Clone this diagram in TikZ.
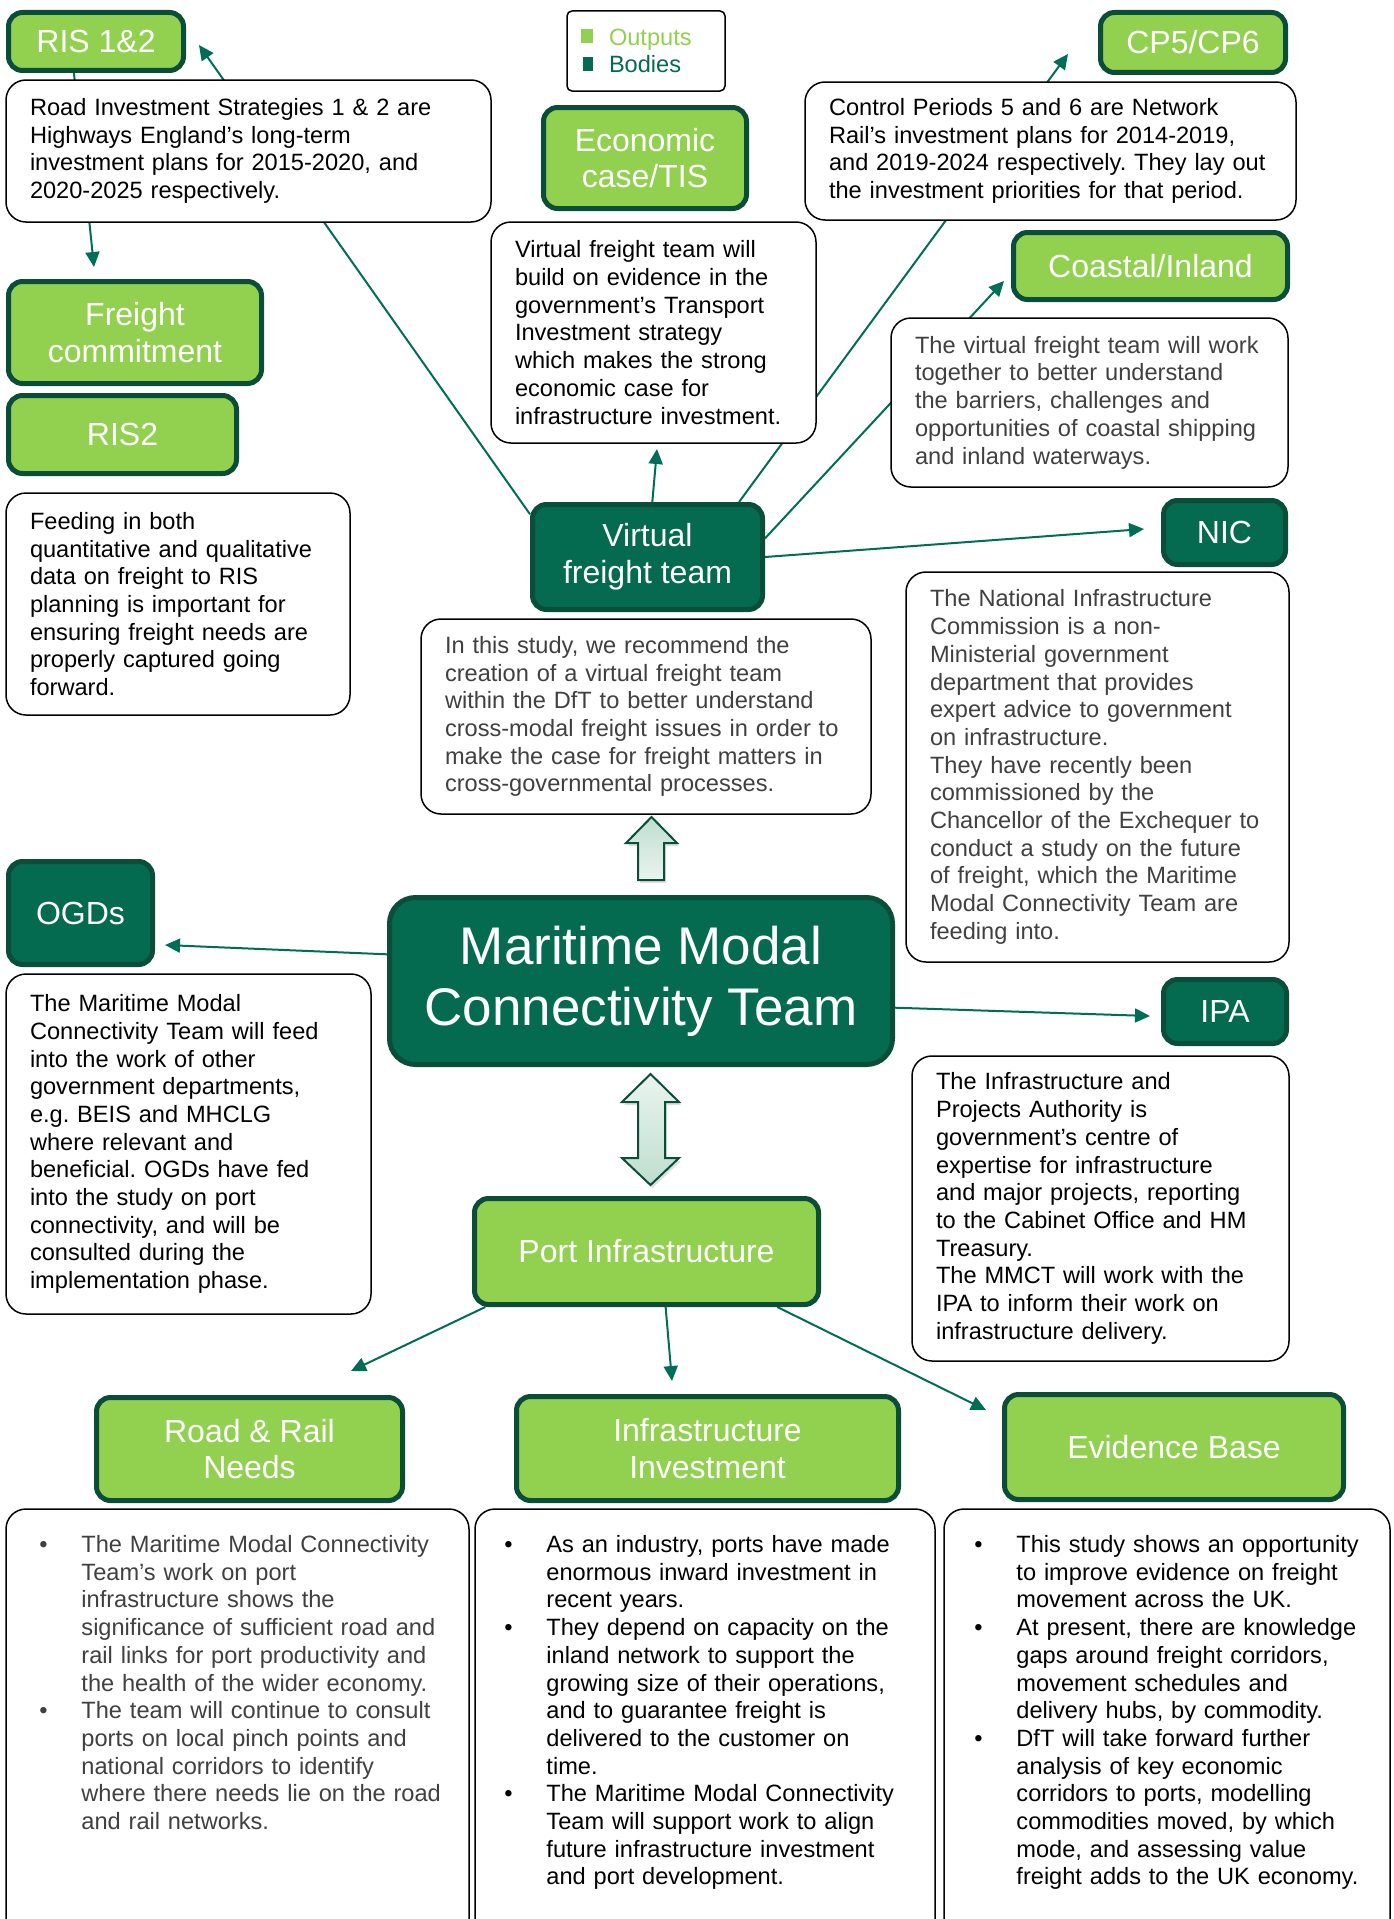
\documentclass[tikz,border=0pt]{standalone}
\usepackage{fontspec}
\setmainfont{Liberation Sans}
\usetikzlibrary{arrows.meta, calc, backgrounds, shadows}

\newcommand{\bodysize}{\fontsize{23.6}{27.7}\selectfont}
\newcommand{\labelsize}{\fontsize{32}{36.7}\selectfont}
\newcommand{\bul}{\makebox[42pt][l]{\textbullet}}
\newcommand{\bulskip}{\hspace*{42pt}}

\begin{document}
\frenchspacing
\begin{tikzpicture}[x=1pt, y=-1pt,
	output/.style={draw=edgegreen, fill=outgreen, line width=5pt, rounded corners=14pt, text=white, font=\labelsize, align=center},
	body/.style={draw=edgegreen, fill=bodygreen, line width=5pt, rounded corners=14pt, text=white, font=\labelsize, align=center},
	note/.style={draw=black, fill=white, line width=1.5pt, rounded corners=20pt, inner xsep=24pt, font=\bodysize, align=left},
	bullets/.style={anchor=north west, inner sep=0pt, text width=430pt, font=\bodysize, align=left},
	link/.style={draw=linkgreen, line width=2pt, -{Triangle[length=15pt,width=14pt]}},
	blockarrow/.style={draw=edgegreen, line width=2pt, drop shadow={shadow xshift=2pt, shadow yshift=-3pt, opacity=0.25}}]
	\definecolor{outgreen}{RGB}{146,208,80}
	\definecolor{bodygreen}{RGB}{4,106,80}
	\definecolor{edgegreen}{RGB}{10,78,57}
	\definecolor{linkgreen}{RGB}{0,110,85}
	\definecolor{notegray}{RGB}{64,64,64}
	\definecolor{arrowdark}{RGB}{190,222,207}
	\definecolor{arrowlight}{RGB}{234,244,239}

	\useasboundingbox (0,0) rectangle (1394,1919);
	\clip (0,0) rectangle (1394,1919);

	% legend
	\node (legend) at (646,51) [draw, fill=white, line width=1.5pt, rounded corners=5pt, minimum height=80pt, text width=130pt, inner xsep=14pt, align=left, font=\bodysize]
		{{\color{outgreen}\rule[2pt]{12pt}{14pt}\hspace{16pt}Outputs}\\{\color{bodygreen}\hspace{2pt}\rule[2pt]{10pt}{14pt}\hspace{16pt}Bodies}};

	% bodies
	\node (mmct) at (641,981) [body, minimum width=503pt, minimum height=167pt, rounded corners=26pt, font=\fontsize{53}{61}\selectfont] {Maritime Modal\\Connectivity Team};
	\node (vft) at (647.5,557) [body, minimum width=230pt, minimum height=105pt] {Virtual\\freight team};
	\node (nic) at (1224.5,532.5) [body, minimum width=122pt, minimum height=64pt] {NIC};
	\node (ogd) at (80.5,913) [body, minimum width=144pt, minimum height=103pt] {OGDs};
	\node (ipa) at (1225,1011.5) [body, minimum width=123pt, minimum height=64pt] {IPA};

	% outputs
	\node (ris12) at (96,41.5) [output, minimum width=175pt, minimum height=58pt] {RIS 1\&2};
	\node (fc) at (135,332.5) [output, minimum width=253pt, minimum height=102pt] {Freight\\commitment};
	\node (ris2) at (122.5,434.5) [output, minimum width=228pt, minimum height=78pt] {RIS2};
	\node (econ) at (645,158) [output, minimum width=203pt, minimum height=101pt] {Economic\\case/TIS};
	\node (cp56) at (1193,42.5) [output, minimum width=185pt, minimum height=60pt] {CP5/CP6};
	\node (coastal) at (1150.5,266) [output, minimum width=274pt, minimum height=67pt] {Coastal/Inland};
	\node (port) at (646.5,1251.5) [output, minimum width=344pt, minimum height=106pt] {Port Infrastructure};
	\node (roadrail) at (249.5,1449) [output, minimum width=306pt, minimum height=103pt] {Road \& Rail\\Needs};
	\node (infinv) at (707.5,1448.5) [output, minimum width=382pt, minimum height=104pt] {Infrastructure\\Investment};
	\node (evidence) at (1174,1447) [output, minimum width=339pt, minimum height=105pt] {Evidence Base};

	% notes
	\node (risnote) at (248.5,151) [note, text width=437pt, minimum height=142pt]
		{Road Investment Strategies 1 \& 2 are\\Highways England's long-term\\investment plans for 2015-2020, and\\2020-2025 respectively.};
	\node (vftnote) at (653.5,332.5) [note, text width=277pt, minimum height=221pt]
		{Virtual freight team will\\build on evidence in the\\government's Transport\\Investment strategy\\which makes the strong\\economic case for\\infrastructure investment.};
	\node (cpnote) at (1050.5,151) [note, text width=443pt, minimum height=138pt]
		{Control Periods 5 and 6 are Network\\Rail's investment plans for 2014-2019,\\and 2019-2024 respectively. They lay out\\the investment priorities for that period.};
	\node (coastnote) at (1089.5,402.5) [note, text width=349pt, minimum height=169pt, text=notegray]
		{The virtual freight team will work\\together to better understand\\the barriers, challenges and\\opportunities of coastal shipping\\and inland waterways.};
	\node (feednote) at (178,604) [note, text width=296pt, minimum height=222pt]
		{Feeding in both\\quantitative and qualitative\\data on freight to RIS\\planning is important for\\ensuring freight needs are\\properly captured going\\forward.};
	\node (studynote) at (646,716.5) [note, text width=402pt, minimum height=195pt, text=notegray]
		{In this study, we recommend the\\creation of a virtual freight team\\within the DfT to better understand\\cross-modal freight issues in order to\\make the case for freight matters in\\cross-governmental processes.};
	\node (nicnote) at (1097.5,767) [note, text width=335pt, minimum height=390pt, text=notegray]
		{The National Infrastructure\\Commission is a non-\\Ministerial government\\department that provides\\expert advice to government\\on infrastructure.\\They have recently been\\commissioned by the\\Chancellor of the Exchequer to\\conduct a study on the future\\of freight, which the Maritime\\Modal Connectivity Team are\\feeding into.};
	\node (ogdnote) at (188.5,1144) [note, text width=317pt, minimum height=340pt]
		{The Maritime Modal\\Connectivity Team will feed\\into the work of other\\government departments,\\e.g. BEIS and MHCLG\\where relevant and\\beneficial. OGDs have fed\\into the study on port\\connectivity, and will be\\consulted during the\\implementation phase.};
	\node (ipanote) at (1100.5,1208.5) [note, text width=329pt, minimum height=305pt]
		{The Infrastructure and\\Projects Authority is\\government's centre of\\expertise for infrastructure\\and major projects, reporting\\to the Cabinet Office and HM\\Treasury.\\The MMCT will work with the\\IPA to inform their work on\\infrastructure delivery.};

	% bottom notes, cut by the page edge
	\node (rrnote) at (237.5,1739) [note, text width=415pt, minimum height=460pt] {};
	\node (invnote) at (705,1739) [note, text width=412pt, minimum height=460pt] {};
	\node (evnote) at (1167,1739) [note, text width=398pt, minimum height=460pt] {};
	\node (rrtext) at ($(rrnote.north west)+(34,27)$) [bullets, text=notegray]
		{\bul The Maritime Modal Connectivity\\\bulskip Team's work on port\\\bulskip infrastructure shows the\\\bulskip significance of sufficient road and\\\bulskip rail links for port productivity and\\\bulskip the health of the wider economy.\\\bul The team will continue to consult\\\bulskip ports on local pinch points and\\\bulskip national corridors to identify\\\bulskip where there needs lie on the road\\\bulskip and rail networks.};
	\node (invtext) at ($(invnote.north west)+(30,27)$) [bullets]
		{\bul As an industry, ports have made\\\bulskip enormous inward investment in\\\bulskip recent years.\\\bul They depend on capacity on the\\\bulskip inland network to support the\\\bulskip growing size of their operations,\\\bulskip and to guarantee freight is\\\bulskip delivered to the customer on\\\bulskip time.\\\bul The Maritime Modal Connectivity\\\bulskip Team will support work to align\\\bulskip future infrastructure investment\\\bulskip and port development.};
	\node (evtext) at ($(evnote.north west)+(31,27)$) [bullets]
		{\bul This study shows an opportunity\\\bulskip to improve evidence on freight\\\bulskip movement across the UK.\\\bul At present, there are knowledge\\\bulskip gaps around freight corridors,\\\bulskip movement schedules and\\\bulskip delivery hubs, by commodity.\\\bul DfT will take forward further\\\bulskip analysis of key economic\\\bulskip corridors to ports, modelling\\\bulskip commodities moved, by which\\\bulskip mode, and assessing value\\\bulskip freight adds to the UK economy.};

	% arrow tips
	\coordinate (risTip) at (199,45);
	\coordinate (fcTip) at (94,267);
	\coordinate (econTip) at (657,449);
	\coordinate (cpTip) at (1068,54);
	\coordinate (coastTip) at (1004,281);
	\coordinate (nicTip) at (1144,529);
	\coordinate (ogdTip) at (165,945);
	\coordinate (ipaTip) at (1150,1016);
	\coordinate (rrTip) at (351,1371);
	\coordinate (invTip) at (672,1381);
	\coordinate (evTip) at (986,1410);

	\begin{pgfonlayer}{background}
	\draw[link] (ris12.235) -- (fcTip);
	\draw[link] (vft.160) -- (risTip);
	\draw[link] (vft.85) -- (econTip);
	\draw[link] (vft.31) -- (cpTip);
	\draw[link] (vft.9) -- (coastTip);
	\draw[link] (vft.east) -- (nicTip);
	\draw[link] (mmct.174.6) -- (ogdTip);
	\draw[link] (mmct.-6.5) -- (ipaTip);
	\draw[link] (port.199.5) -- (rrTip);
	\draw[link] (port.289.4) -- (invTip);
	\draw[link] (port.337.7) -- (evTip);
	\end{pgfonlayer}

	% block arrows
	\shadedraw[blockarrow, top color=arrowdark, bottom color=arrowlight] (651.5,817) -- (677,843) -- (664,843) -- (664,880) -- (638,880) -- (638,843) -- (626,843) -- cycle;
	\shadedraw[blockarrow, top color=arrowlight, bottom color=arrowdark] (650.5,1074) -- (679,1102) -- (665,1102) -- (665,1158) -- (679,1158) -- (650.5,1185) -- (622,1158) -- (638,1158) -- (638,1102) -- (622,1102) -- cycle;

\end{tikzpicture}
\end{document}
